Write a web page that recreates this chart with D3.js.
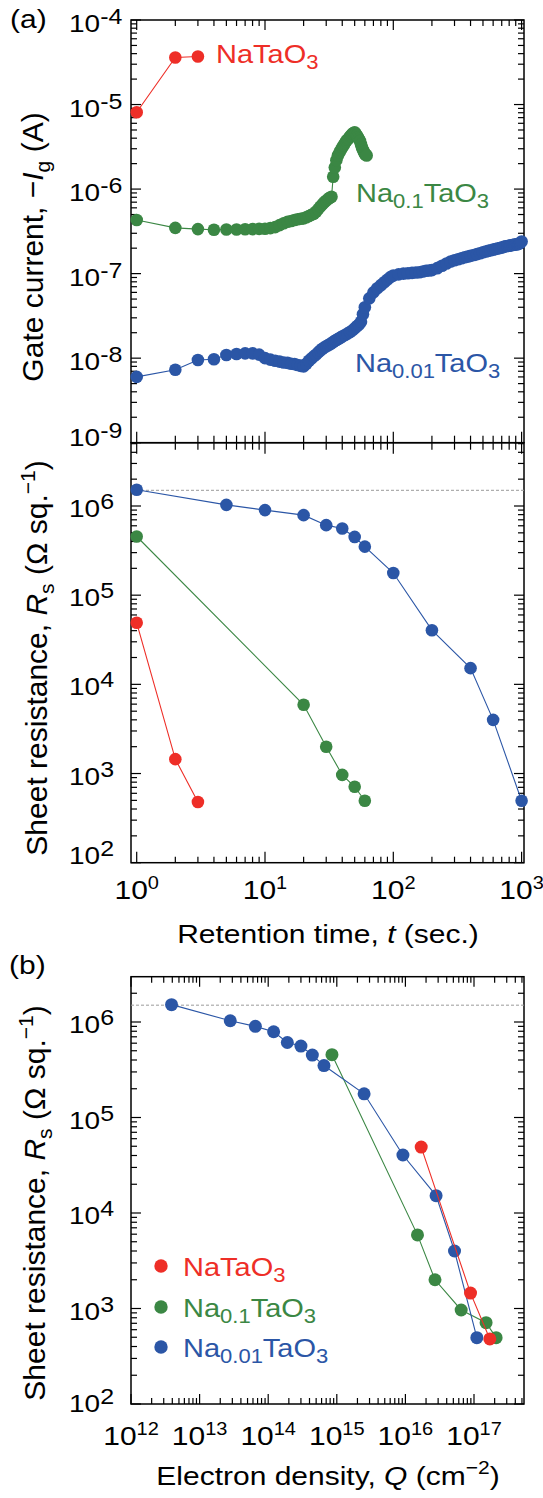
<!DOCTYPE html>
<html>
<head>
<meta charset="utf-8">
<script src="https://cdn.jsdelivr.net/npm/d3@7"></script>
<style>body{margin:0;background:#fff}</style>
</head>
<body>
<svg id="svg" width="543" height="1498"></svg>
<script>
// ---- data ----
// (a) gate current vs retention time
const redGateT = [1, 2, 3];
const redGateI = [8.1e-6, 3.6e-5, 3.7e-5];

const greenGateT = [1, 2, 3, 4, 5, 6, 7, 8, 9, 10, 11, 12, 13, 14, 15, 16, 17, 18, 19, 20,
    21, 22, 23, 24, 25, 26, 27, 28, 29, 30, 31, 32, 33, 34, 35, 36, 37, 38, 39, 40,
    41, 42, 43, 44, 45, 46, 47, 48, 49, 50, 51, 52, 53, 54, 55, 56, 57, 58, 59, 60, 61, 62];
const greenGateI = [4.3e-7, 3.48e-7, 3.36e-7, 3.3e-7, 3.32e-7, 3.33e-7, 3.35e-7, 3.36e-7, 3.38e-7, 3.4e-7,
    3.45e-7, 3.55e-7, 3.75e-7, 3.95e-7, 4.1e-7, 4.2e-7, 4.3e-7, 4.4e-7, 4.45e-7, 4.5e-7,
    4.65e-7, 4.8e-7, 4.95e-7, 5.1e-7, 5.4e-7, 5.8e-7, 6.2e-7, 6.6e-7, 7.0e-7, 7.3e-7,
    7.6e-7, 7.9e-7, 8.1e-7, 1.4e-6, 1.8e-6, 2.2e-6, 2.5e-6, 2.7e-6, 2.9e-6, 3.1e-6,
    3.3e-6, 3.5e-6, 3.7e-6, 3.85e-6, 4.0e-6, 4.2e-6, 4.35e-6, 4.5e-6, 4.6e-6, 4.7e-6,
    4.5e-6, 4.3e-6, 4.1e-6, 3.9e-6, 3.7e-6, 3.4e-6, 3.1e-6, 2.9e-6, 2.75e-6, 2.6e-6, 2.55e-6, 2.5e-6];

const blueGateT = [1, 2, 3, 4, 5, 6, 7, 8, 9, 10, 11, 12, 13, 14, 15, 16, 17, 18, 19, 20,
    21, 22, 23, 24, 25, 26, 27, 28, 29, 30, 31, 32, 33, 34, 35, 36, 37, 38, 39, 40,
    42, 44, 46, 48, 50, 52, 54, 56, 58, 60, 65, 70, 75, 80, 85, 90, 95, 100,
    110, 120, 130, 140, 150, 160, 170, 180, 190, 200, 220, 240, 260, 280, 300, 320, 340, 360, 380, 400,
    425, 450, 475, 500, 525, 550, 575, 600, 625, 650, 675, 700, 725, 750, 775, 800,
    825, 850, 875, 900, 925, 950, 975, 1000];
const blueGateI = [6.0e-9, 7.3e-9, 9.5e-9, 9.7e-9, 1.09e-8, 1.12e-8, 1.14e-8, 1.14e-8, 1.1e-8, 1.0e-8,
    9.6e-9, 9.3e-9, 9.1e-9, 8.9e-9, 8.8e-9, 8.6e-9, 8.5e-9, 8.3e-9, 8.1e-9, 8.0e-9,
    8.6e-9, 9.3e-9, 9.9e-9, 1.05e-8, 1.1e-8, 1.17e-8, 1.23e-8, 1.29e-8, 1.34e-8, 1.38e-8,
    1.42e-8, 1.46e-8, 1.5e-8, 1.55e-8, 1.6e-8, 1.64e-8, 1.68e-8, 1.72e-8, 1.76e-8, 1.8e-8,
    1.88e-8, 1.96e-8, 2.04e-8, 2.13e-8, 2.25e-8, 2.38e-8, 2.5e-8, 2.7e-8, 3.3e-8, 4.0e-8,
    5.1e-8, 6.0e-8, 6.7e-8, 7.3e-8, 7.9e-8, 8.5e-8, 9.1e-8, 9.5e-8,
    9.8e-8, 1.0e-7, 1.01e-7, 1.02e-7, 1.03e-7, 1.04e-7, 1.06e-7, 1.08e-7, 1.09e-7, 1.1e-7,
    1.16e-7, 1.24e-7, 1.32e-7, 1.39e-7, 1.44e-7, 1.48e-7, 1.52e-7, 1.56e-7, 1.59e-7, 1.62e-7,
    1.66e-7, 1.7e-7, 1.74e-7, 1.79e-7, 1.83e-7, 1.86e-7, 1.89e-7, 1.92e-7, 1.95e-7, 1.98e-7,
    2.01e-7, 2.04e-7, 2.07e-7, 2.1e-7, 2.12e-7, 2.14e-7, 2.16e-7, 2.18e-7, 2.2e-7, 2.21e-7,
    2.23e-7, 2.25e-7, 2.3e-7, 2.4e-7];

// (a) sheet resistance vs retention time, (b) vs electron density
const redT = [1, 2, 3];
const redRs = [4.9e4, 1.45e3, 480];
const redQ = [1.7e16, 8.9e16, 1.7e17];

const greenT = [1, 20, 30, 40, 50, 60];
const greenRs = [4.55e5, 5.9e3, 2.0e3, 965, 710, 495];
const greenQ = [8.5e14, 1.5e16, 2.7e16, 6.5e16, 1.5e17, 2.1e17];

const blueT = [1, 5, 10, 20, 30, 40, 50, 60, 100, 200, 400, 600, 1000];
const blueRs = [1.52e6, 1.03e6, 9.0e5, 7.9e5, 6.1e5, 5.6e5, 4.5e5, 3.5e5, 1.77e5, 4.05e4, 1.52e4, 4.0e3, 495];
const blueQ = [3.9e12, 2.8e13, 6.5e13, 1.2e14, 1.9e14, 3.0e14, 4.4e14, 6.5e14, 2.5e15, 9.2e15, 2.8e16, 5.2e16, 1.1e17];

const rsLimit = 1.5e6;   // dashed guide line

const tExps = [0, 1, 2, 3];
const gateExps = [-4, -5, -6, -7, -8, -9];
const rsExps = [6, 5, 4, 3, 2];
const qExps = [12, 13, 14, 15, 16, 17];

// ---- drawing ----
const FONT = "'Liberation Sans', Arial, Helvetica, sans-serif";
const RED = "#ee2e27", GREEN = "#3b8744", BLUE = "#2b56a6";
const SQ = 0.88;   // horizontal text looks squashed vertically in the original

const svg = d3.select("#svg");
const L = 131, R = 524;

const xT = d3.scaleLog().domain([1, 1000]).range([136.7, 521.6]);
const yI = d3.scaleLog().domain([1e-9, 1e-4]).range([442.7, 20]);
const yR1 = d3.scaleLog().domain([1e2, 1e6]).range([862.7, 506]);
const xQ = d3.scaleLog().domain([1e12, 1e17]).range([131, 474]);
const yR2 = d3.scaleLog().domain([1e2, 1e6]).range([1404, 1022]);

function logValues(a, b) {
    const lo = Math.min(a, b), hi = Math.max(a, b);
    const out = [];
    for (let k = Math.floor(Math.log10(lo)) - 1; k <= Math.ceil(Math.log10(hi)); k++) {
        for (let m = 1; m <= 9; m++) {
            const v = m * Math.pow(10, k);
            if (v >= lo * 0.9999 && v <= hi * 1.0001) out.push({ v: v, major: m === 1 });
        }
    }
    return out;
}

// ticks point inward; with cross they also reach out past the line
function ticks(scale, side, pos, lo, hi, opts = {}) {
    const maj = opts.major || 10, min = opts.minor || 6;
    const vals = logValues(scale.invert(lo), scale.invert(hi));
    const g = svg.append("g").attr("stroke", "#000").attr("stroke-width", 1.2);
    g.selectAll("line").data(vals).join("line").each(function (d) {
        const p = scale(d.v);
        const len = d.major ? maj : min;
        const back = opts.cross ? (d.major ? opts.crossMajor : opts.crossMinor) : 0;
        const s = d3.select(this);
        if (side === "left") s.attr("x1", pos - back).attr("x2", pos + len).attr("y1", p).attr("y2", p);
        if (side === "right") s.attr("x1", pos + back).attr("x2", pos - len).attr("y1", p).attr("y2", p);
        if (side === "top") s.attr("y1", pos - back).attr("y2", pos + len).attr("x1", p).attr("x2", p);
        if (side === "bottom") s.attr("y1", pos + back).attr("y2", pos - len).attr("x1", p).attr("x2", p);
    });
}

function frame(x0, y0, x1, y1) {
    svg.append("rect").attr("x", x0).attr("y", y0).attr("width", x1 - x0).attr("height", y1 - y0)
        .attr("fill", "none").attr("stroke", "#000").attr("stroke-width", 1.5);
}

// text made of parts: {s, sub, sup, it, size}
function label(x, y, parts, o) {
    const rot = o.rotate ? ` rotate(${o.rotate})` : "";
    const sc = o.rotate ? "" : ` scale(1,${SQ})`;
    const t = svg.append("text")
        .attr("transform", `translate(${x},${y})${rot}${sc}`)
        .attr("font-family", FONT)
        .attr("font-size", o.size)
        .attr("fill", o.fill || "#000")
        .attr("text-anchor", o.anchor || "start");
    let shift = 0;
    parts.forEach(p => {
        let target = 0;
        if (p.sup) target = -(o.raise || 10);
        if (p.sub) target = (o.drop || 6);
        const ts = t.append("tspan").text(p.s).attr("dy", target - shift);
        shift = target;
        if (p.sup || p.sub) ts.attr("font-size", p.size || o.small);
        if (p.it) ts.attr("font-style", "italic");
    });
    return t;
}

function series(xs, ys, xsc, ysc, color, r) {
    const pts = xs.map((x, i) => [xsc(x), ysc(ys[i])]);
    svg.append("path").attr("d", d3.line()(pts))
        .attr("fill", "none").attr("stroke", color).attr("stroke-width", 1.1);
    svg.append("g").selectAll("circle").data(pts).join("circle")
        .attr("cx", d => d[0]).attr("cy", d => d[1]).attr("r", r).attr("fill", color);
}

// ---------- panel (a) top ----------
frame(L, 20, R, 442.7);
ticks(yI, "left", L, 442.7, 20);
ticks(yI, "right", R, 442.7, 20);
ticks(xT, "top", 20, L, R);

series(redGateT, redGateI, xT, yI, RED, 6.3);
series(greenGateT, greenGateI, xT, yI, GREEN, 6.3);
series(blueGateT, blueGateI, xT, yI, BLUE, 6.3);

// ---------- panel (a) bottom ----------
frame(L, 442.7, R, 862.7);
ticks(xT, "bottom", 442.7, L, R, { cross: true, crossMajor: 11, crossMinor: 7, major: 11, minor: 7 });
ticks(yR1, "left", L, 862.7, 442.7);
ticks(yR1, "right", R, 862.7, 442.7);
ticks(xT, "bottom", 862.7, L, R, { major: 11, minor: 6 });

svg.append("line").attr("x1", L).attr("x2", R).attr("y1", yR1(rsLimit)).attr("y2", yR1(rsLimit))
    .attr("stroke", "#9a9a9a").attr("stroke-width", 1).attr("stroke-dasharray", "3,2");

series(redT, redRs, xT, yR1, RED, 6.3);
series(greenT, greenRs, xT, yR1, GREEN, 6.3);
series(blueT, blueRs, xT, yR1, BLUE, 6.3);

// ---------- panel (b) ----------
frame(L, 976.7, R, 1404);
ticks(xQ, "top", 976.7, L, R);
ticks(xQ, "bottom", 1404, L, R);
ticks(yR2, "left", L, 1404, 976.7);
ticks(yR2, "right", R, 1404, 976.7);

svg.append("line").attr("x1", L).attr("x2", R).attr("y1", yR2(rsLimit)).attr("y2", yR2(rsLimit))
    .attr("stroke", "#9a9a9a").attr("stroke-width", 1).attr("stroke-dasharray", "3,2");

series(greenQ, greenRs, xQ, yR2, GREEN, 6.5);
series(blueQ, blueRs, xQ, yR2, BLUE, 6.5);
series(redQ, redRs, xQ, yR2, RED, 6.5);

// ---------- tick labels ----------
gateExps.forEach(e => {
    const y = yI(Math.pow(10, e)) + (e === -9 ? 3 : 12);
    label(69, y, [{ s: "10" }, { s: String(e), sup: true }], { size: 28, small: 25, raise: 9 });
});
rsExps.forEach(e => {
    const y = yR1(Math.pow(10, e)) + (e === 2 ? 1 : 11);
    label(69, y, [{ s: "10" }, { s: String(e), sup: true }], { size: 28, small: 25, raise: 9 });
});
rsExps.forEach(e => {
    const y = yR2(Math.pow(10, e)) + (e === 2 ? 8 : 11);
    label(69, y, [{ s: "10" }, { s: String(e), sup: true }], { size: 28, small: 25, raise: 9 });
});
tExps.forEach(e => {
    label(xT(Math.pow(10, e)), 899, [{ s: "10" }, { s: String(e), sup: true }],
        { size: 30, small: 20, raise: 11, anchor: "middle" });
});
qExps.forEach(e => {
    label(xQ(Math.pow(10, e)), 1445, [{ s: "10" }, { s: String(e), sup: true }],
        { size: 30, small: 20, raise: 11, anchor: "middle" });
});

// ---------- axis titles ----------
label(43, 247, [{ s: "Gate current, \u2212" }, { s: "I", it: true }, { s: "g", sub: true }, { s: " (A)" }],
    { size: 30, small: 21, drop: 7, rotate: -90, anchor: "middle" });
const rsTitle = [{ s: "Sheet resistance, " }, { s: "R", it: true }, { s: "s", sub: true },
    { s: " (\u03A9 sq." }, { s: "\u22121", sup: true }, { s: ")" }];
label(47, 658, rsTitle, { size: 30, small: 21, drop: 7, raise: 12, rotate: -90, anchor: "middle" });
label(45, 1203, rsTitle, { size: 30, small: 21, drop: 7, raise: 12, rotate: -90, anchor: "middle" });

label(328, 943, [{ s: "Retention time, " }, { s: "t", it: true }, { s: " (sec.)" }],
    { size: 30, anchor: "middle" });
label(328, 1485, [{ s: "Electron density, " }, { s: "Q", it: true }, { s: " (cm" },
    { s: "\u22122", sup: true }, { s: ")" }], { size: 30, small: 21, raise: 12, anchor: "middle" });

label(10, 28, [{ s: "(a)" }], { size: 30 });
label(9, 974, [{ s: "(b)" }], { size: 30 });

// ---------- series labels ----------
const nameParts = {
    red: [{ s: "NaTaO" }, { s: "3", sub: true }],
    green: [{ s: "Na" }, { s: "0.1", sub: true }, { s: "TaO" }, { s: "3", sub: true }],
    blue: [{ s: "Na" }, { s: "0.01", sub: true }, { s: "TaO" }, { s: "3", sub: true }]
};
label(216, 63, nameParts.red, { size: 29, small: 22, drop: 7, fill: RED });
label(356, 202, nameParts.green, { size: 29, small: 22, drop: 7, fill: GREEN });
label(355, 372, nameParts.blue, { size: 29, small: 22, drop: 7, fill: BLUE });

// legend (b)
const legend = [["red", RED, 1276], ["green", GREEN, 1317], ["blue", BLUE, 1357]];
legend.forEach(([k, c, y]) => {
    svg.append("circle").attr("cx", 161).attr("cy", y - 10).attr("r", 6.7).attr("fill", c);
    label(183, y, nameParts[k], { size: 29, small: 22, drop: 7, fill: c });
});
</script>
</body>
</html>
